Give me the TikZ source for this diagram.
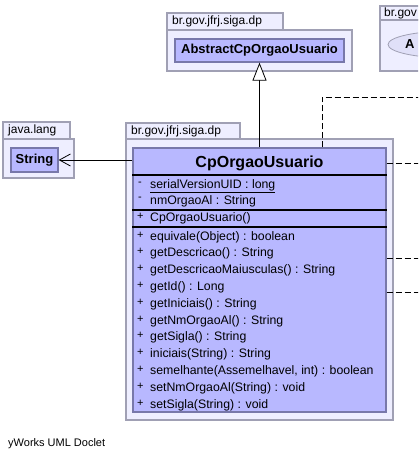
\documentclass[tikz,border=0pt]{standalone}
\usepackage{fontspec}
\setmainfont{Liberation Sans}
\usetikzlibrary{arrows.meta}
\definecolor{pkgfill}{RGB}{238,238,255}
\definecolor{pkgline}{RGB}{160,160,180}
\definecolor{clsfill}{RGB}{184,184,255}
\definecolor{clsline}{RGB}{120,120,170}
\definecolor{ellfill}{RGB}{224,224,248}
\tikzset{
  pkgbox/.style={draw=pkgline, fill=pkgfill, line width=1.2pt},
  clsbox/.style={draw=clsline, fill=clsfill, line width=1.2pt, inner sep=0pt},
  pkglabel/.style={anchor=west, inner sep=0pt, font=\fontsize{12}{12}\selectfont},
  member/.style={anchor=west, inner sep=0pt, font=\fontsize{12.3}{12.3}\selectfont},
  vis/.style={anchor=west, inner sep=0pt, font=\fontsize{11}{11}\selectfont},
  sepline/.style={line width=1.2pt, black},
  deplink/.style={dash pattern=on 6pt off 3pt, line width=0.8pt},
}
\begin{document}
\begin{tikzpicture}[x=1pt,y=-1pt]
\useasboundingbox (0,0) rectangle (418,458);
\clip (0,0) rectangle (418,458);
% right partial package
\draw[pkgbox] (380,6) rectangle (430,20);
\draw[pkgbox] (380,20) rectangle (430,71);
\node[pkglabel] (p3lab) at (384,13.5) {br.gov};
\draw[draw=pkgline, fill=ellfill, line width=0.8pt] (450,44.5) ellipse [x radius=62, y radius=13.5];
\node[anchor=west, inner sep=0pt, font=\bfseries\fontsize{13}{13}\selectfont] (p3cls) at (405,44.5) {A};
% top package
\draw[pkgbox] (167,13) rectangle (283,30);
\draw[pkgbox] (167,30) rectangle (352,71);
\node[pkglabel] (p1lab) at (172,21.5) {br.gov.jfrj.siga.dp};
\node[clsbox, minimum width=169pt, minimum height=23pt, font=\bfseries\fontsize{13}{13}\selectfont] (abs) at (259.5,50.5) {AbstractCpOrgaoUsuario};
% java.lang package
\draw[pkgbox] (3,122) rectangle (70,139);
\draw[pkgbox] (3,139) rectangle (74,178);
\node[pkglabel] (p2lab) at (8,130.5) {java.lang};
\node[clsbox, minimum width=47pt, minimum height=24pt, font=\bfseries\fontsize{13}{13}\selectfont] (str) at (34.5,160) {String};
% main package
\draw[pkgbox] (126,123) rectangle (240,139);
\draw[pkgbox] (126,139) rectangle (393,420);
\node[pkglabel] (p4lab) at (131,131) {br.gov.jfrj.siga.dp};
\node[clsbox, minimum width=253pt, minimum height=264pt] (cp) at (259.5,280) {};
\node[inner sep=0pt, font=\bfseries\fontsize{16}{16}\selectfont] (cpname) at (259.5,163) {CpOrgaoUsuario};
\draw[sepline] (cp.west |- 0,175) -- (cp.east |- 0,175);
\draw[sepline] (cp.west |- 0,210) -- (cp.east |- 0,210);
\draw[sepline] (cp.west |- 0,227) -- (cp.east |- 0,227);
\node[vis] (v1) at (138,184) {-};
\node[member] (a1) at (150,186) {\underline{serialVersionUID : long}};
\node[vis] (v2) at (138,199) {-};
\node[member] (a2) at (150,201) {nmOrgaoAl : String};
\node[vis] (v3) at (137,216) {+};
\node[member] (c1) at (150,218) {CpOrgaoUsuario()};
\foreach \t [count=\i from 0] in {equivale(Object) : boolean, getDescricao() : String, getDescricaoMaiusculas() : String, getId() : Long, getIniciais() : String, getNmOrgaoAl() : String, getSigla() : String, iniciais(String) : String, {semelhante(Assemelhavel, int) : boolean}, setNmOrgaoAl(String) : void, setSigla(String) : void}{
  \node[vis] (mv\i) at (137,{235+16.8*\i}) {+};
  \node[member] (m\i) at (150,{237+16.8*\i}) {\t};
}
% connectors
\draw[line width=0.8pt, -{Triangle[open, length=18pt, width=14pt, fill=white]}] (cp.north) -- (abs.south);
\draw[line width=0.8pt, -{Straight Barb[length=11pt, width=12pt]}] (cp.west |- str) -- (str.east);
\coordinate (d1) at (322,97);
\coordinate (d1e) at (420,97);
\draw[deplink] (cp.north -| d1) -- (d1) -- (d1e);
\coordinate (e1) at (420,163);
\coordinate (e2) at (420,258);
\coordinate (e3) at (420,292);
\draw[deplink] (cp.east |- e1) -- (e1);
\draw[deplink] (cp.east |- e2) -- (e2);
\draw[deplink] (cp.east |- e3) -- (e3);
\node[anchor=west, inner sep=0pt, font=\fontsize{11}{11}\selectfont] (credit) at (8,444) {yWorks UML Doclet};
\end{tikzpicture}
\end{document}
